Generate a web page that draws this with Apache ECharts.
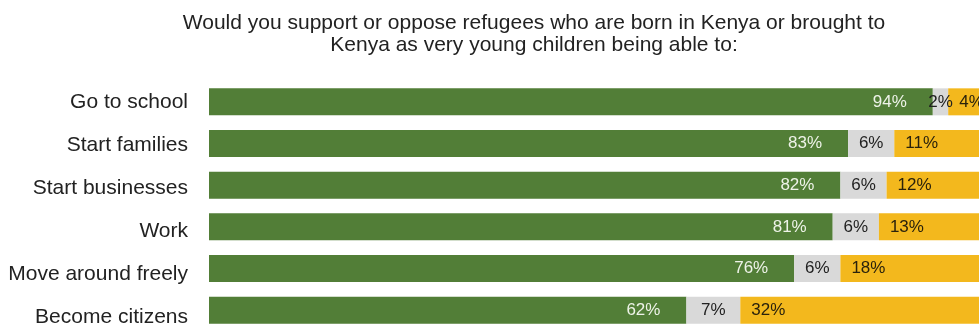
<!DOCTYPE html>
<html>
<head>
<meta charset="utf-8">
<script src="https://cdn.jsdelivr.net/npm/echarts@6/dist/echarts.min.js"></script>
<style>
html,body{margin:0;padding:0;background:#fff;}
#chart{width:979px;height:328px;}
</style>
</head>
<body>
<div id="chart"></div>
<script>
const titleText = 'Would you support or oppose refugees who are born in Kenya or brought to\nKenya as very young children being able to:';
const categories = ['Go to school', 'Start families', 'Start businesses', 'Work', 'Move around freely', 'Become citizens'];
const support = [94, 83, 82, 81, 76, 62];
const neither = [2, 6, 6, 6, 6, 7];
const oppose = [4, 11, 12, 13, 18, 32];

const FONT = '"Liberation Sans", Arial, sans-serif';
const chart = echarts.init(document.getElementById('chart'), null, {renderer: 'canvas'});

function series(name, data, color, label) {
  return {
    name: name,
    type: 'bar',
    stack: 'total',
    xAxisIndex: 0,
    yAxisIndex: 0,
    data: data,
    barWidth: 27,
    itemStyle: {color: color},
    label: Object.assign({show: true, formatter: '{c}%', fontFamily: FONT, fontSize: 17}, label),
    emphasis: {disabled: true}
  };
}

chart.setOption({
  animation: false,
  title: {
    text: titleText,
    left: 529,
    top: 7,
    textAlign: 'center',
    textStyle: {fontFamily: FONT, fontSize: 21, fontWeight: 'normal', color: '#222', lineHeight: 22}
  },
  grid: [
    {left: 209, top: 81, width: 770, height: 250, containLabel: false, outerBoundsMode: 'none'},
    {left: 209, top: 81, width: 770, height: 258, containLabel: false, outerBoundsMode: 'none'}
  ],
  xAxis: [
    {type: 'value', min: 0, max: 100, show: false, gridIndex: 0},
    {type: 'value', min: 0, max: 100, show: false, gridIndex: 1}
  ],
  yAxis: [
    {
      type: 'category', gridIndex: 0, data: categories, inverse: true,
      axisLine: {show: false}, axisTick: {show: false}, axisLabel: {show: false}
    },
    {
      type: 'category', gridIndex: 1, data: categories, inverse: true,
      axisLine: {show: false}, axisTick: {show: false},
      axisLabel: {fontFamily: FONT, fontSize: 21, color: '#222', margin: 21}
    }
  ],
  series: [
    series('Support', support, '#527e37', {position: 'insideRight', distance: 26, color: '#eef3e8'}),
    series('Neither', neither, '#d9d9d9', {position: 'inside', color: '#222'}),
    series('Oppose', oppose, '#f3b81d', {position: 'insideLeft', distance: 11, color: '#2a220c'})
  ]
});
</script>
</body>
</html>
